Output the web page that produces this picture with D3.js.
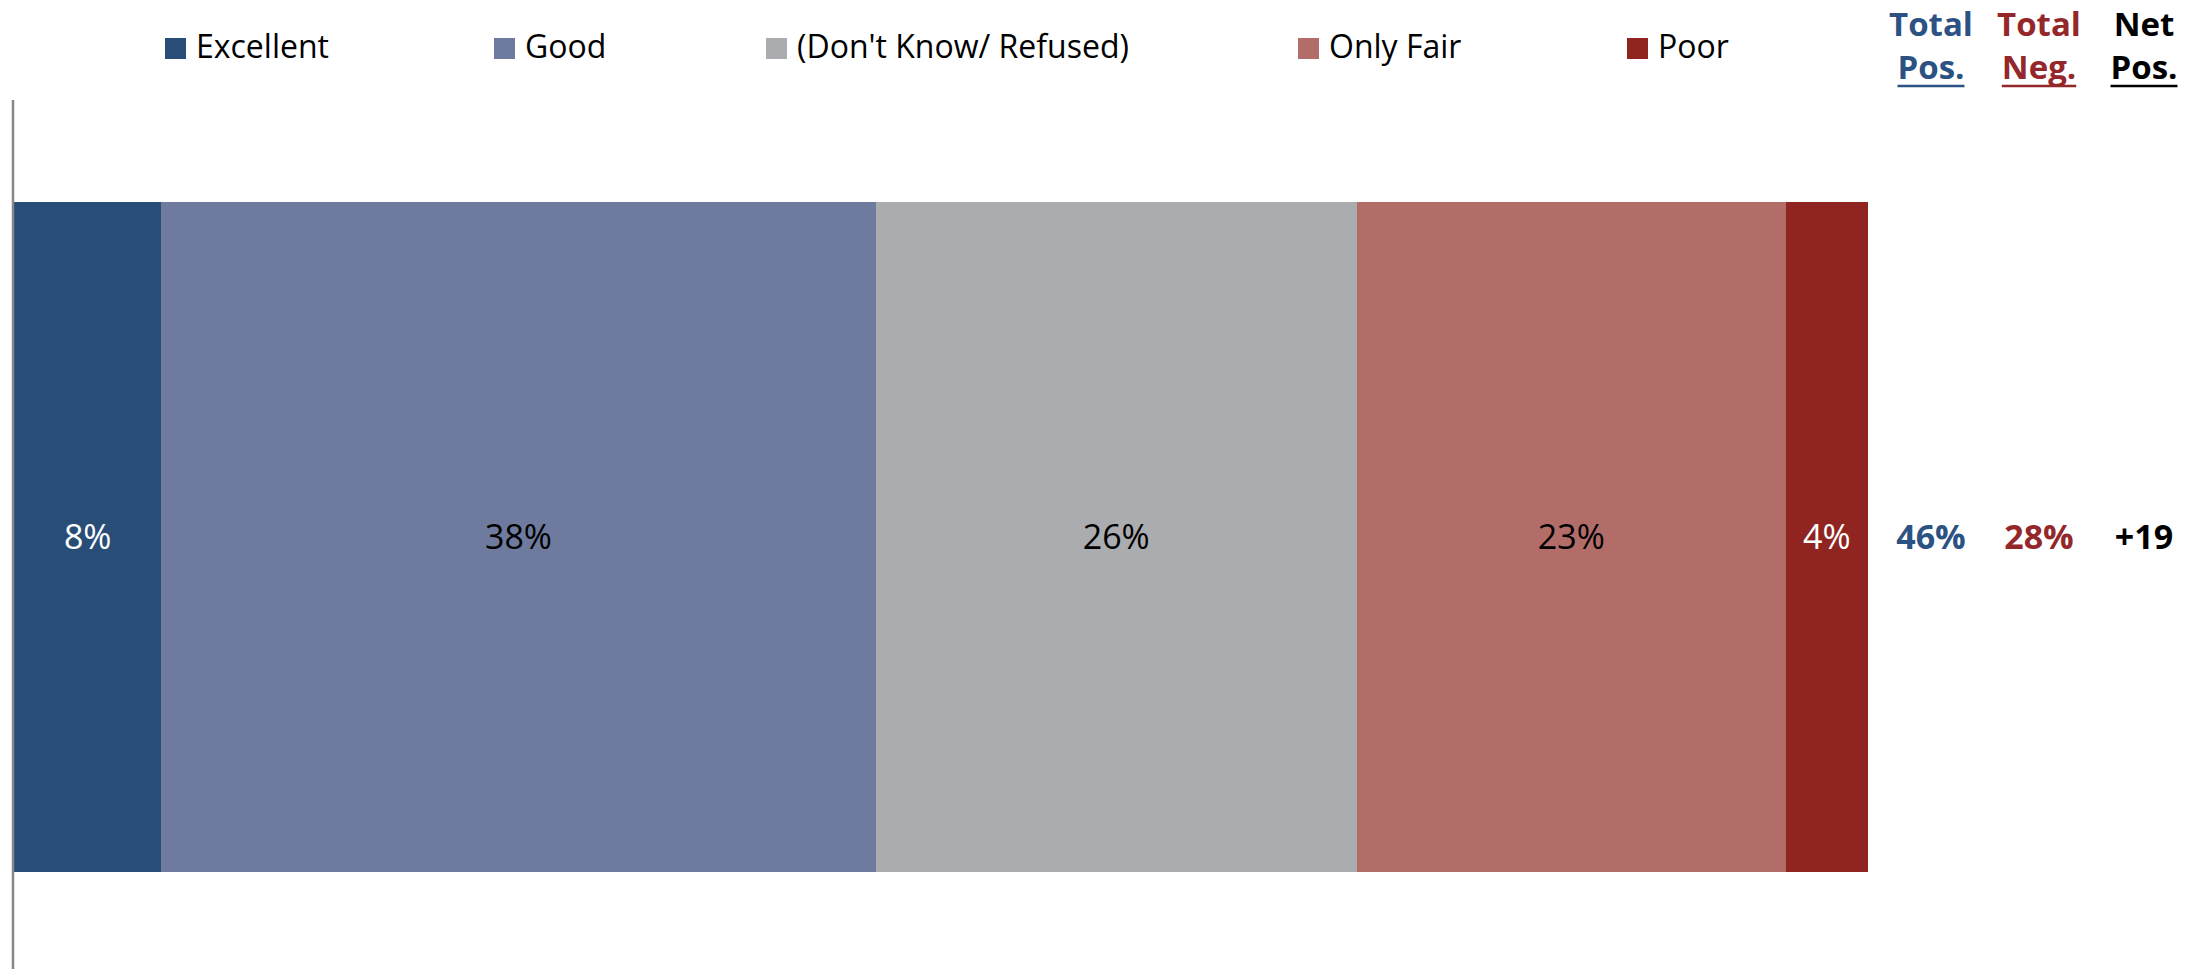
<!DOCTYPE html>
<html>
<head>
<meta charset="utf-8">
<script src="https://cdn.jsdelivr.net/npm/d3@7"></script>
<style>
  body { margin: 0; background: #fff; }
  text { font-family: "Open Sans", "Liberation Sans", sans-serif; }
</style>
</head>
<body>
<svg id="chart" width="2205" height="969"></svg>
<script>
// data
var categories = ["Excellent", "Good", "(Don't Know/ Refused)", "Only Fair", "Poor"];
var values = [7.9, 38.3, 25.8, 23.0, 4.4];
var valueLabels = ["8%", "38%", "26%", "23%", "4%"];
var summaryHeads = [["Total", "Pos."], ["Total", "Neg."], ["Net", "Pos."]];
var summaryValues = ["46%", "28%", "+19"];

var colors = ["#284e78", "#6e7b9e", "#abacaf", "#b36d69", "#8f2420"];
var labelColors = ["#fff", "#000", "#000", "#000", "#fff"];
var summaryColors = ["#2b5283", "#94272a", "#000"];
var legendX = [165, 494, 766, 1298, 1627];
var summaryX = [1931, 2039, 2144];

var svg = d3.select("#chart"),
  width = +svg.attr("width"),
  height = +svg.attr("height");

var x = d3.scaleLinear().domain([0, 100]).range([14, 14 + 1865]);
var y = d3.scaleBand().domain(["all"]).range([202, 872]).padding(0);

// stack the segments
var start = 0;
var segs = values.map(function (v, i) {
  var s = {name: categories[i], x0: start, x1: start + v, label: valueLabels[i], i: i};
  start += v;
  return s;
});

svg.selectAll("rect.seg")
  .data(segs)
  .enter().append("rect")
  .attr("class", "seg")
  .attr("x", function (d) { return Math.round(x(d.x0)); })
  .attr("width", function (d) { return Math.round(x(d.x1)) - Math.round(x(d.x0)); })
  .attr("y", y("all"))
  .attr("height", y.bandwidth())
  .attr("shape-rendering", "crispEdges")
  .attr("fill", function (d) { return colors[d.i]; });

svg.selectAll("text.val")
  .data(segs)
  .enter().append("text")
  .attr("class", "val")
  .attr("x", function (d) { return (x(d.x0) + x(d.x1)) / 2; })
  .attr("y", y("all") + y.bandwidth() / 2)
  .attr("dy", "0.36em")
  .attr("text-anchor", "middle")
  .attr("font-size", 34)
  .attr("fill", function (d) { return labelColors[d.i]; })
  .text(function (d) { return d.label; });

// vertical axis line
svg.append("line")
  .attr("x1", 13).attr("x2", 13)
  .attr("y1", 100).attr("y2", height)
  .attr("stroke", "#868686")
  .attr("stroke-width", 2.5);

// legend
var leg = svg.selectAll("g.leg")
  .data(categories)
  .enter().append("g")
  .attr("class", "leg")
  .attr("transform", function (d, i) { return "translate(" + legendX[i] + ",38)"; });

leg.append("rect")
  .attr("width", 21).attr("height", 21)
  .attr("fill", function (d, i) { return colors[i]; });

leg.append("text")
  .attr("x", 31)
  .attr("y", 20)
  .attr("font-size", 32)
  .attr("fill", "#000")
  .text(function (d) { return d; });

// summary columns
summaryHeads.forEach(function (h, i) {
  var g = svg.append("g").attr("transform", "translate(" + summaryX[i] + ",0)");
  g.append("text")
    .attr("y", 36)
    .attr("text-anchor", "middle")
    .attr("font-size", 33)
    .attr("font-weight", "bold")
    .attr("fill", summaryColors[i])
    .text(h[0]);
  var t = g.append("text")
    .attr("y", 79)
    .attr("text-anchor", "middle")
    .attr("font-size", 33)
    .attr("font-weight", "bold")
    .attr("fill", summaryColors[i])
    .text(h[1]);
  var w = t.node().getComputedTextLength();
  g.append("line")
    .attr("x1", -w / 2).attr("x2", w / 2)
    .attr("y1", 86).attr("y2", 86)
    .attr("stroke", summaryColors[i])
    .attr("stroke-width", 2.5);

  svg.append("text")
    .attr("x", summaryX[i])
    .attr("y", y("all") + y.bandwidth() / 2)
    .attr("dy", "0.36em")
    .attr("text-anchor", "middle")
    .attr("font-size", 34)
    .attr("font-weight", "bold")
    .attr("fill", summaryColors[i])
    .text(summaryValues[i]);
});
</script>
</body>
</html>
